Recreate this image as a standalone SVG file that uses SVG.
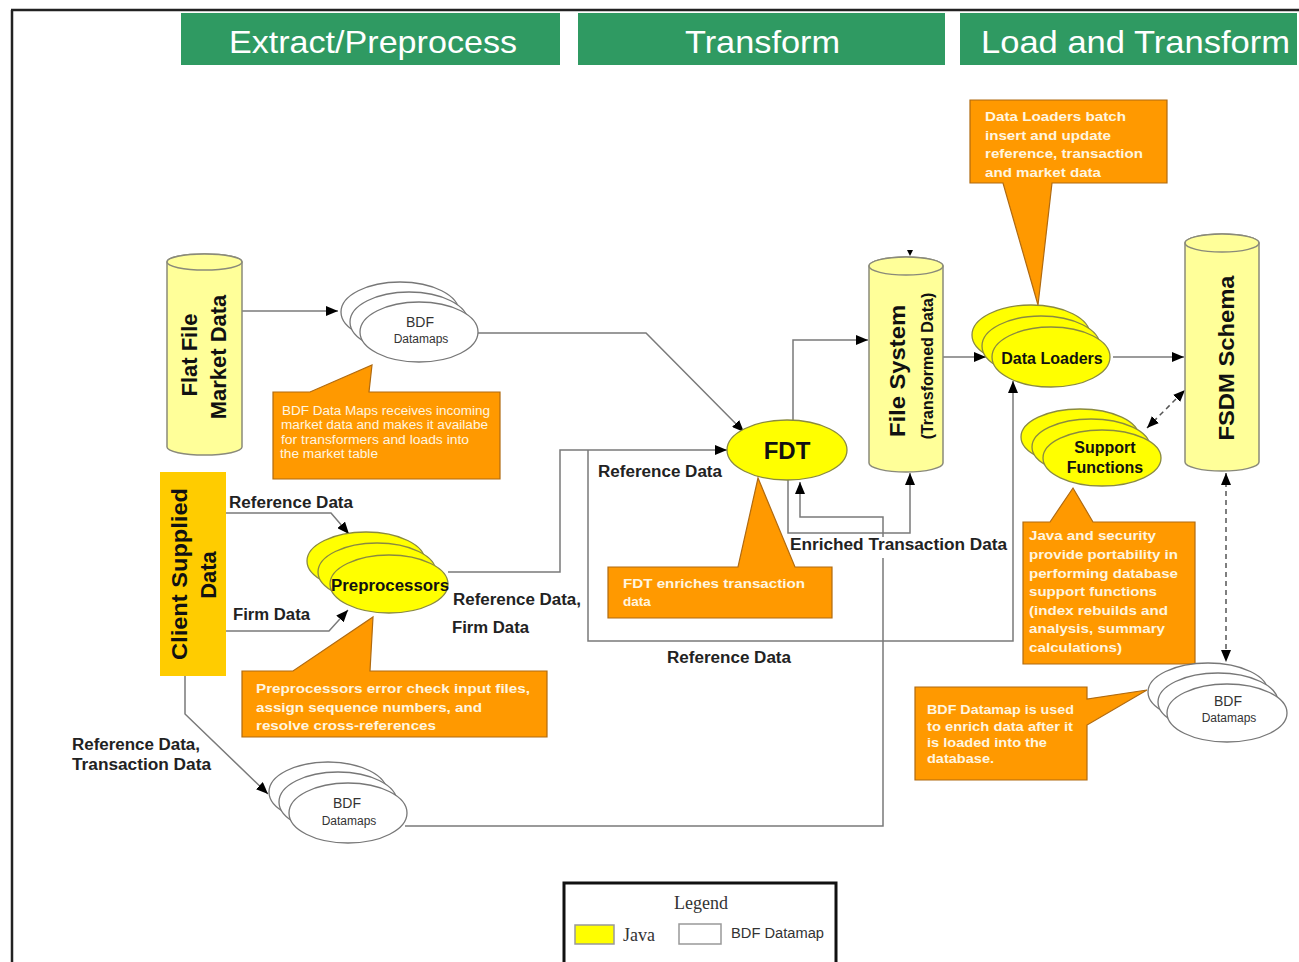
<svg xmlns="http://www.w3.org/2000/svg" width="1299" height="962" viewBox="0 0 1299 962">
<style>
.hdr{fill:#2f9a62}
.htx{font-family:"Liberation Sans",Arial,sans-serif;font-size:32px;fill:#fff}
.cyl{fill:#ffff99;stroke:#8a8a7a;stroke-width:1.5}
.java{fill:#ffff00;stroke:#8a8a40;stroke-width:1.3}
.bdf{fill:#fff;stroke:#777;stroke-width:1.3}
.call{fill:#ff9900;stroke:#b06a10;stroke-width:1.2}
.ctx{font-family:"Liberation Sans",Arial,sans-serif;font-size:13.5px;font-weight:bold;fill:#fff6e0}
.ctn{font-family:"Liberation Sans",Arial,sans-serif;font-size:12px;fill:#fff6e0}
.big{font-family:"Liberation Sans",Arial,sans-serif;font-size:22px;font-weight:bold;fill:#111}
.nl{font-family:"Liberation Sans",Arial,sans-serif;font-size:16px;font-weight:bold;fill:#111}
.sm{font-family:"Liberation Sans",Arial,sans-serif;fill:#333}
.lbl{font-family:"Liberation Sans",Arial,sans-serif;font-size:16px;font-weight:bold;fill:#222}
.ln{fill:none;stroke:#7a7a7a;stroke-width:1.5}
.dash{fill:none;stroke:#555;stroke-width:1.5;stroke-dasharray:5,4}
.serif{font-family:"Liberation Serif","Times New Roman",serif;font-size:18px;fill:#333}
</style>
<defs>
<marker id="ah" viewBox="0 0 12 10" refX="12" refY="5" markerWidth="12" markerHeight="10" markerUnits="userSpaceOnUse" orient="auto-start-reverse">
<path d="M0,0 L12,5 L0,10 Z" fill="#000"/>
</marker>
</defs>
<rect width="1299" height="962" fill="#fff"/>
<g id="frame">
<path d="M11,10 H1299 M12,10 V962" fill="none" stroke="#222" stroke-width="2.5"/>
</g>
<g id="headers">
<rect class="hdr" x="181" y="13" width="379" height="52"/>
<text class="htx" x="229" y="53" textLength="288" lengthAdjust="spacingAndGlyphs">Extract/Preprocess</text>
<rect class="hdr" x="578" y="13" width="367" height="52"/>
<text class="htx" x="685" y="53" textLength="155" lengthAdjust="spacingAndGlyphs">Transform</text>
<rect class="hdr" x="960" y="13" width="337" height="52"/>
<text class="htx" x="981" y="53" textLength="309" lengthAdjust="spacingAndGlyphs">Load and Transform</text>
</g>
<g id="connectors">
<path class="ln" d="M242,311 H338" marker-end="url(#ah)"/>
<path class="ln" d="M478,333 H646 L744,432" marker-end="url(#ah)"/>
<path class="ln" d="M226,513 H331 L349,534" marker-end="url(#ah)"/>
<path class="ln" d="M226,631 H329 L348,610" marker-end="url(#ah)"/>
<path class="ln" d="M448,572 H560 V450 H727" marker-end="url(#ah)"/>
<path class="ln" d="M588,450 V641 H1013 V381" marker-end="url(#ah)"/>
<path class="ln" d="M793,420 V340 H868" marker-end="url(#ah)"/>
<path class="ln" d="M788,480 V533 H910 V473" marker-end="url(#ah)"/>
<path class="ln" d="M405,826 H883 V558"/>
<path class="ln" d="M883,537 V517 H800 V482" marker-end="url(#ah)"/>
<path class="ln" d="M943,357 H986" marker-end="url(#ah)"/>
<path class="ln" d="M1113,357 H1184" marker-end="url(#ah)"/>
<path class="ln" d="M185,676 V714 L268,794" marker-end="url(#ah)"/>
<path d="M907,250 L913,250 L910,256 Z" fill="#000"/>
<path class="dash" d="M1147,428 L1185,390" marker-start="url(#ah)" marker-end="url(#ah)"/>
<path class="dash" d="M1226,473 V662" marker-start="url(#ah)" marker-end="url(#ah)"/>
</g>
<g id="flatfile">
<path class="cyl" d="M167,262 A37.5,8 0 0 1 242,262 V447 A37.5,8 0 0 1 167,447 Z"/>
<ellipse class="cyl" cx="204.5" cy="262" rx="37.5" ry="8"/>
<text class="big" text-anchor="middle" transform="translate(197,355) rotate(-90)">Flat File</text>
<text class="big" text-anchor="middle" transform="translate(226,357) rotate(-90)">Market Data</text>
</g>
<g id="bdf-top">
<ellipse class="bdf" cx="400" cy="312" rx="59" ry="30"/>
<ellipse class="bdf" cx="409" cy="322" rx="59" ry="30"/>
<ellipse class="bdf" cx="419" cy="332" rx="59" ry="30"/>
<text class="sm" x="420" y="327" font-size="14" text-anchor="middle">BDF</text>
<text class="sm" x="421" y="343" font-size="12" text-anchor="middle">Datamaps</text>
</g>
<g id="callout-bdf-top">
<path class="call" d="M273,392 H310 L372,365 L369,392 H500 V479 H273 Z"/>
<text class="ctn" x="282" y="415" textLength="208" lengthAdjust="spacingAndGlyphs">BDF Data Maps receives incoming</text>
<text class="ctn" x="281" y="429" textLength="207" lengthAdjust="spacingAndGlyphs">market data and makes it availabe</text>
<text class="ctn" x="281" y="444" textLength="188" lengthAdjust="spacingAndGlyphs">for transformers and loads into</text>
<text class="ctn" x="280" y="458" textLength="98" lengthAdjust="spacingAndGlyphs">the market table</text>
</g>
<g id="client">
<rect x="160" y="472" width="66" height="204" fill="#ffcc00"/>
<text class="big" text-anchor="middle" transform="translate(187,574) rotate(-90)" textLength="172" lengthAdjust="spacingAndGlyphs">Client Supplied</text>
<text class="big" text-anchor="middle" transform="translate(216,575) rotate(-90)">Data</text>
</g>
<g id="preprocessors">
<ellipse class="java" cx="366" cy="561" rx="59" ry="29"/>
<ellipse class="java" cx="377" cy="572" rx="59" ry="29"/>
<ellipse class="java" cx="389" cy="584" rx="59" ry="29"/>
<text class="nl" x="390" y="591" text-anchor="middle" textLength="118" lengthAdjust="spacingAndGlyphs">Preprocessors</text>
</g>
<g id="callout-pre">
<path class="call" d="M242,671 H293 L373,617 L370,671 H547 V737 H242 Z"/>
<text class="ctx" x="256" y="693" textLength="274" lengthAdjust="spacingAndGlyphs">Preprocessors error check input files,</text>
<text class="ctx" x="256" y="712" textLength="226" lengthAdjust="spacingAndGlyphs">assign sequence numbers, and</text>
<text class="ctx" x="256" y="730" textLength="180" lengthAdjust="spacingAndGlyphs">resolve cross-references</text>
</g>
<g id="fdt">
<ellipse class="java" cx="787" cy="450" rx="60" ry="30"/>
<text x="787" y="459" text-anchor="middle" font-family="Liberation Sans, Arial, sans-serif" font-size="24" font-weight="bold" fill="#111">FDT</text>
</g>
<g id="callout-fdt">
<path class="call" d="M608,567 H738 L758,478 L795,567 H832 V618 H608 Z"/>
<text class="ctx" x="623" y="588" textLength="182" lengthAdjust="spacingAndGlyphs">FDT enriches transaction</text>
<text class="ctx" x="623" y="606">data</text>
</g>
<g id="filesystem">
<path class="cyl" d="M869,266 A37,9 0 0 1 943,266 V463 A37,9 0 0 1 869,463 Z"/>
<ellipse class="cyl" cx="906" cy="266" rx="37" ry="9"/>
<text class="big" text-anchor="middle" transform="translate(905,371) rotate(-90)" textLength="132" lengthAdjust="spacingAndGlyphs">File System</text>
<text class="nl" font-size="14" text-anchor="middle" transform="translate(933,366) rotate(-90)">(Transformed Data)</text>
</g>
<g id="dataloaders">
<ellipse class="java" cx="1031" cy="335" rx="59" ry="30"/>
<ellipse class="java" cx="1041" cy="346" rx="59" ry="30"/>
<ellipse class="java" cx="1051" cy="357" rx="59" ry="30"/>
<text class="nl" x="1052" y="364" text-anchor="middle">Data Loaders</text>
</g>
<g id="callout-dl">
<path class="call" d="M970,100 H1167 V183 H1052 L1038,305 L1003,183 H970 Z"/>
<text class="ctx" x="985" y="121" textLength="141" lengthAdjust="spacingAndGlyphs">Data Loaders batch</text>
<text class="ctx" x="985" y="140" textLength="126" lengthAdjust="spacingAndGlyphs">insert and update</text>
<text class="ctx" x="985" y="158" textLength="158" lengthAdjust="spacingAndGlyphs">reference, transaction</text>
<text class="ctx" x="985" y="177" textLength="116" lengthAdjust="spacingAndGlyphs">and market data</text>
</g>
<g id="fsdm">
<path class="cyl" d="M1185,243 A37,9 0 0 1 1259,243 V462 A37,9 0 0 1 1185,462 Z"/>
<ellipse class="cyl" cx="1222" cy="243" rx="37" ry="9"/>
<text class="big" text-anchor="middle" transform="translate(1234,358) rotate(-90)" textLength="165" lengthAdjust="spacingAndGlyphs">FSDM Schema</text>
</g>
<g id="support">
<ellipse class="java" cx="1080" cy="437" rx="59" ry="28"/>
<ellipse class="java" cx="1091" cy="447" rx="59" ry="28"/>
<ellipse class="java" cx="1102" cy="458" rx="59" ry="28"/>
<text class="nl" x="1105" y="453" text-anchor="middle">Support</text>
<text class="nl" x="1105" y="473" text-anchor="middle">Functions</text>
</g>
<g id="callout-support">
<path class="call" d="M1023,522 H1050 L1073,488 L1093,522 H1195 V664 H1023 Z"/>
<text class="ctx" x="1029" y="540" textLength="127" lengthAdjust="spacingAndGlyphs">Java and security</text>
<text class="ctx" x="1029" y="559" textLength="149" lengthAdjust="spacingAndGlyphs">provide portability in</text>
<text class="ctx" x="1029" y="578" textLength="149" lengthAdjust="spacingAndGlyphs">performing database</text>
<text class="ctx" x="1029" y="596" textLength="128" lengthAdjust="spacingAndGlyphs">support functions</text>
<text class="ctx" x="1029" y="615" textLength="139" lengthAdjust="spacingAndGlyphs">(index rebuilds and</text>
<text class="ctx" x="1029" y="633" textLength="136" lengthAdjust="spacingAndGlyphs">analysis, summary</text>
<text class="ctx" x="1029" y="652" textLength="93" lengthAdjust="spacingAndGlyphs">calculations)</text>
</g>
<g id="bdf-right">
<ellipse class="bdf" cx="1208" cy="692" rx="60" ry="29"/>
<ellipse class="bdf" cx="1218" cy="702" rx="60" ry="29"/>
<ellipse class="bdf" cx="1227" cy="713" rx="60" ry="29"/>
<text class="sm" x="1228" y="706" font-size="14" text-anchor="middle">BDF</text>
<text class="sm" x="1229" y="722" font-size="12" text-anchor="middle">Datamaps</text>
</g>
<g id="callout-bdf-right">
<path class="call" d="M915,687 H1087 V699 L1147,690 L1087,725 V780 H915 Z"/>
<text class="ctx" x="927" y="714" font-size="13" textLength="147" lengthAdjust="spacingAndGlyphs">BDF Datamap is used</text>
<text class="ctx" x="927" y="731" font-size="13" textLength="146" lengthAdjust="spacingAndGlyphs">to enrich data after it</text>
<text class="ctx" x="927" y="747" font-size="13" textLength="120" lengthAdjust="spacingAndGlyphs">is loaded into the</text>
<text class="ctx" x="927" y="763" font-size="13" textLength="67" lengthAdjust="spacingAndGlyphs">database.</text>
</g>
<g id="bdf-bottom">
<ellipse class="bdf" cx="328" cy="792" rx="59" ry="30"/>
<ellipse class="bdf" cx="338" cy="802" rx="59" ry="30"/>
<ellipse class="bdf" cx="348" cy="813" rx="59" ry="30"/>
<text class="sm" x="347" y="808" font-size="14" text-anchor="middle">BDF</text>
<text class="sm" x="349" y="825" font-size="12" text-anchor="middle">Datamaps</text>
</g>
<g id="labels">
<text class="lbl" x="229" y="508" textLength="124" lengthAdjust="spacingAndGlyphs">Reference Data</text>
<text class="lbl" x="233" y="620" textLength="77" lengthAdjust="spacingAndGlyphs">Firm Data</text>
<text class="lbl" x="453" y="605" textLength="128" lengthAdjust="spacingAndGlyphs">Reference Data,</text>
<text class="lbl" x="452" y="633" textLength="77" lengthAdjust="spacingAndGlyphs">Firm Data</text>
<text class="lbl" x="598" y="477" textLength="124" lengthAdjust="spacingAndGlyphs">Reference Data</text>
<text class="lbl" x="790" y="550" textLength="217" lengthAdjust="spacingAndGlyphs">Enriched Transaction Data</text>
<text class="lbl" x="667" y="663" textLength="124" lengthAdjust="spacingAndGlyphs">Reference Data</text>
<text class="lbl" x="72" y="750" textLength="128" lengthAdjust="spacingAndGlyphs">Reference Data,</text>
<text class="lbl" x="72" y="770" textLength="139" lengthAdjust="spacingAndGlyphs">Transaction Data</text>
</g>
<g id="legend">
<rect x="564" y="883" width="272" height="90" fill="#fff" stroke="#111" stroke-width="3"/>
<text class="serif" x="701" y="909" text-anchor="middle">Legend</text>
<rect x="575" y="925" width="39" height="19" fill="#ffff00" stroke="#999" stroke-width="1.5"/>
<text class="serif" x="623" y="941">Java</text>
<rect x="679" y="924" width="42" height="20" fill="#fff" stroke="#999" stroke-width="1.5"/>
<text class="sm" x="731" y="938" font-size="14" textLength="93" lengthAdjust="spacingAndGlyphs">BDF Datamap</text>
</g>
</svg>
